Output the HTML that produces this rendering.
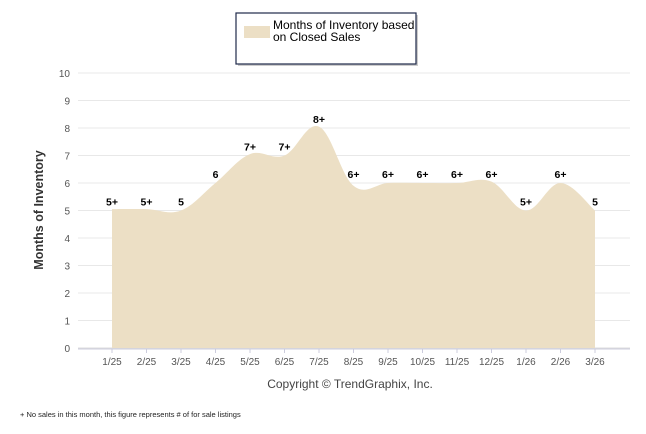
<!DOCTYPE html>
<html><head><meta charset="utf-8"><style>
body{margin:0;background:#fff;width:646px;height:434px;overflow:hidden;font-family:"Liberation Sans",sans-serif}
svg{display:block}
</style></head><body>
<svg width="646" height="434">
<g>
<rect x="238" y="15" width="180" height="51" fill="#999" opacity="0.5"/>
<rect x="236" y="13" width="180" height="51" fill="#fff" stroke="#1f2a4a" stroke-width="1.2"/>
<rect x="244" y="26" width="26" height="12" fill="#ecdfc5"/>
<text x="273" y="29" font-size="12" fill="#000">Months of Inventory based</text>
<text x="273" y="41" font-size="12" fill="#000">on Closed Sales</text>
</g>
<g id="grid"></g>
<path id="area" fill="#ecdfc5"/>
<g id="labels"></g>
<text transform="translate(43,210) rotate(-90)" text-anchor="middle" font-size="12.5" font-weight="bold" fill="#333">Months of Inventory</text>
<text x="350" y="388" text-anchor="middle" font-size="12" fill="#444">Copyright © TrendGraphix, Inc.</text>
<text x="20" y="417" font-size="7.5" fill="#222">+  No sales in this month, this figure represents # of for sale listings</text>
</svg>
<script>
const categories=["1/25","2/25","3/25","4/25","5/25","6/25","7/25","8/25","9/25","10/25","11/25","12/25","1/26","2/26","3/26"];
const values=[5.05,5.05,5,6,7.05,7,8.05,5.9,6,6,6,6.05,5,6,5];
const pointLabels=["5+","5+","5","6","7+","7+","8+","6+","6+","6+","6+","6+","5+","6+","5"];
const yTicks=[0,1,2,3,4,5,6,7,8,9,10];
const NS="http://www.w3.org/2000/svg";
const x0=78,x1=630;
function xs(i){return 112+i*(595-112)/(categories.length-1);}
function ys(v){return 348-v*27.5;}
const grid=document.getElementById('grid');
function mk(tag,attrs,parent){const e=document.createElementNS(NS,tag);for(const k in attrs)e.setAttribute(k,attrs[k]);parent.appendChild(e);return e;}
yTicks.forEach(t=>{
  const l=mk('line',{x1:x0,x2:x1,y1:ys(t),y2:ys(t),stroke:t===0?'#ddd':'#e8e8e8','stroke-width':1},grid);
  
  
  const tx=mk('text',{x:70,y:ys(t)+4,'text-anchor':'end','font-size':10,fill:'#555'},grid);
  tx.textContent=t;
  
  
});
mk('line',{x1:x0,x2:x1,y1:349,y2:349,stroke:'#ccd',"stroke-width":1},grid);
categories.forEach((c,i)=>{
  mk('line',{x1:xs(i),x2:xs(i),y1:349,y2:353,stroke:'#ccd'},grid);
  const tx=mk('text',{x:xs(i),y:365,'text-anchor':'middle','font-size':10,fill:'#555'},grid);
  tx.textContent=c;
  
  
});
const pts=values.map((v,i)=>[xs(i),ys(v)]);
let d=`M${pts[0][0]},${ys(0)} L${pts[0][0]},${pts[0][1]}`;
for(let i=0;i<pts.length-1;i++){
  const p0=pts[Math.max(0,i-1)],p1=pts[i],p2=pts[i+1],p3=pts[Math.min(pts.length-1,i+2)];
  const t=0.18;
  const c1=[p1[0]+(p2[0]-p0[0])*t,p1[1]+(p2[1]-p0[1])*t];
  const c2=[p2[0]-(p3[0]-p1[0])*t,p2[1]-(p3[1]-p1[1])*t];
  d+=` C${c1[0]},${c1[1]} ${c2[0]},${c2[1]} ${p2[0]},${p2[1]}`;
}
d+=` L${pts[pts.length-1][0]},${ys(0)} Z`;
document.getElementById('area').setAttribute('d',d);
const lg=document.getElementById('labels');
values.forEach((v,i)=>{
  const tx=mk('text',{x:xs(i),y:ys(Math.round(v))-5,'text-anchor':'middle','font-size':10.5,'font-weight':'bold',fill:'#000'},lg);
  tx.textContent=pointLabels[i];
  
  
});
</script>
</body></html>
